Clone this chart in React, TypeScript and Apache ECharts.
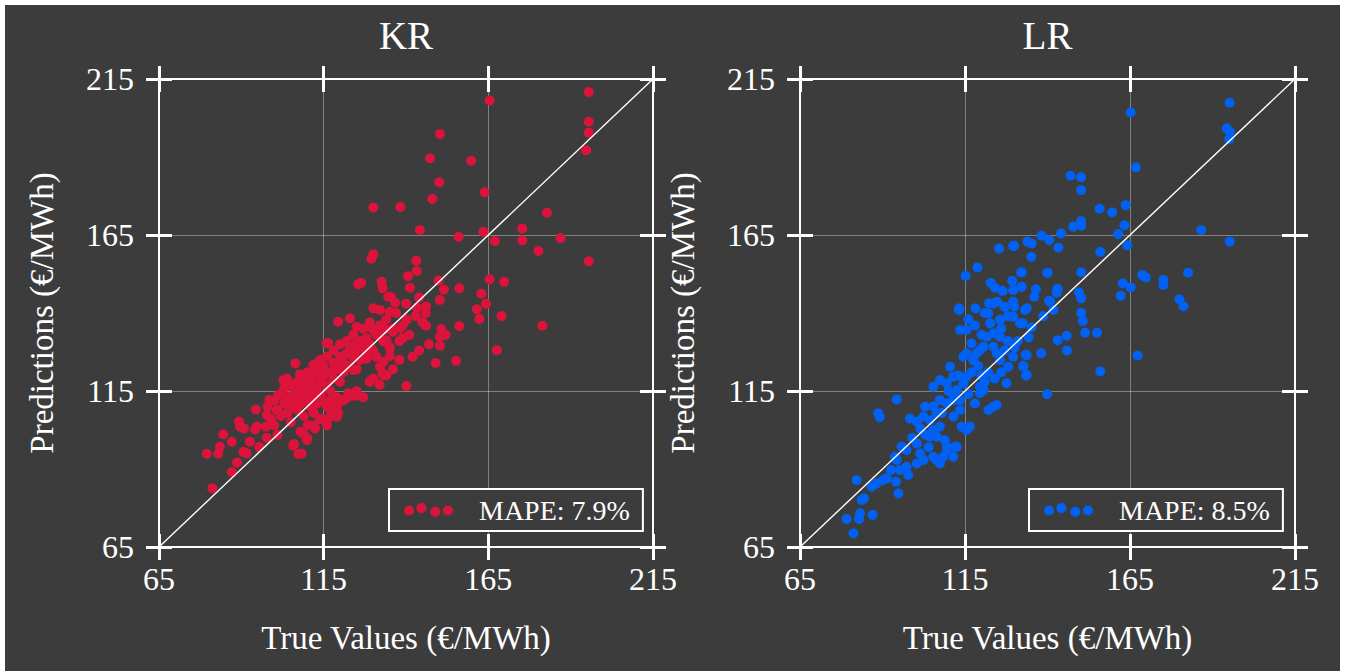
import React, { useEffect, useRef } from "react";
import * as echarts from "echarts";

const AXIS_MIN = 65;
const AXIS_MAX = 215;
const AXIS_STEP = 50;
const titles = ["KR", "LR"];
const xName = "True Values (€/MWh)";
const yName = "Predictions (€/MWh)";
const legendLabels = ["MAPE: 7.9%", "MAPE: 8.5%"];
const colors = ["#DC143C", "#0061F3"];
const diagonal: [number, number][] = [[65, 65], [215, 215]];

const krPoints: [number, number][] = [
  [195.5, 210.8], [165.4, 208.1], [195.5, 201.3], [195.5, 197.8], [194.7, 192.2], [150.3, 197.4], [147.3, 189.6],
  [159.8, 188.8], [150.1, 181.9], [163.9, 178.7], [148, 176.6], [138.3, 174], [182.8, 172.1], [144.2, 166.6],
  [175.3, 167.1], [156, 164.4], [163.5, 166], [167, 163.1], [175.3, 163.3], [186.9, 164], [180.2, 159.9],
  [195.5, 156.6], [143.1, 156.8], [143.3, 153.5], [140.6, 151.8], [141.2, 148.1], [132.6, 150], [132.9, 147.9],
  [149.9, 150.4], [151.5, 147.5], [156.2, 147.9], [165.4, 150.8], [169.8, 150], [162.9, 146.2], [164.3, 143],
  [150.3, 144.2], [135.4, 145.2], [136.7, 143.3], [161.5, 141.2], [162.3, 138.1], [169, 139], [181.4, 135.9],
  [167.6, 128.1], [155.2, 124.7], [156.2, 135.8], [150.7, 134.9], [150.3, 132.4], [150.3, 129.5], [146.1, 135.9],
  [143.3, 141.7], [146.1, 142.1], [140.2, 137.9], [139.1, 132.1], [140.1, 116.6], [138.2, 135.2], [136.2, 135.2],
  [133.6, 134.9], [134.1, 131.3], [135.1, 128.7], [135.1, 126.2], [133.1, 124.4], [132.9, 120.7], [135.1, 140.4],
  [130.1, 173.8], [130.1, 158.8], [129.5, 157.4], [125.5, 149.2], [126.4, 149.7], [134.6, 145.2], [130.1, 141.5],
  [81.2, 83.8], [87.1, 89], [88.7, 92.1], [79.5, 94.9], [83, 94.9], [83.5, 97.1], [84.5, 101.1], [87.1, 98.7],
  [89.3, 105.2], [89.6, 103.6], [90.8, 103], [92.6, 98.7], [90.6, 95.5], [91.6, 95], [94.7, 103.6], [94.2, 102.7],
  [97.5, 103.6], [95.4, 97.1], [97.7, 100], [94.4, 109.1], [98.5, 112.1], [97.7, 107.3], [100.7, 108.9],
  [101.2, 113.7], [102.8, 118.5], [103.8, 119], [101, 100.9], [106.4, 123.8], [107.8, 120.4], [105.8, 97.5],
  [107.3, 94.8], [108.3, 95], [108.8, 101.4], [109.9, 99.3], [110.2, 104.1], [112.4, 103], [113.9, 106.2],
  [111.9, 123.3], [112.9, 123.9], [116.4, 106.2], [119, 106.8], [117, 108.9], [119.4, 107.9], [120, 112.1],
  [122, 112.7], [122.5, 114.3], [124.5, 113.4], [115.9, 130.3], [116.4, 130.3], [119.4, 137.2], [123, 138.3],
  [125, 135.6], [132.1, 141], [129.1, 135.6], [130.1, 134.6], [133.1, 134.6], [128.1, 125.4], [130.1, 119],
  [132.1, 122.8], [133.1, 120.1], [125, 130.3], [124, 121.7],
  [98, 110], [99, 106], [100, 112], [100, 104], [101, 109], [102, 114], [102, 107], [103, 111], [103, 116],
  [104, 108], [104, 113], [105, 110], [105, 117], [105, 105], [106, 112], [106, 115], [107, 109], [107, 118],
  [108, 113], [108, 111], [108, 116], [109, 114], [109, 119], [109, 107], [110, 112], [110, 117], [110, 121],
  [111, 110], [111, 115], [111, 118], [112, 113], [112, 120], [112, 108], [113, 116], [113, 122], [113, 111],
  [114, 118], [114, 114], [114, 125], [115, 120], [115, 112], [115, 123], [116, 117], [116, 126], [116, 110],
  [117, 121], [117, 115], [118, 124], [118, 119], [118, 128], [119, 122], [119, 113], [120, 126], [120, 118],
  [120, 130], [121, 124], [121, 121], [122, 127], [122, 131], [123, 123], [123, 129], [124, 126], [124, 133],
  [125, 128], [125, 122], [126, 131], [126, 125], [127, 129], [127, 135], [128, 127], [128, 132], [129, 130],
  [129, 137], [130, 128], [131, 133], [131, 126], [132, 136], [133, 131], [134, 138], [135, 129], [136, 134],
  [137, 140], [138, 131], [139, 136], [140, 143], [141, 133], [143, 139], [144, 145], [145, 137], [146, 140],
  [106, 98], [108, 102], [110, 100], [112, 104], [114, 106], [116, 104], [118, 108], [117, 112], [119, 110],
  [121, 112], [123, 114], [125, 115], [127, 113], [129, 118], [132, 117], [134, 120], [136, 122], [138, 125],
  [142, 126], [144, 128], [147, 130], [149, 124], [152, 133]
];

const lrPoints: [number, number][] = [
  [195.2, 207.4], [194.3, 199.2], [195.3, 198.1], [195.1, 195.7], [165.2, 204.3], [166.8, 186.7], [147, 184],
  [150.2, 183.5], [150.2, 179.4], [155.8, 173.4], [159.6, 172.3], [163.7, 174.6], [147.8, 167.7], [150.2, 169.5],
  [150.2, 168], [163.3, 168.1], [161.4, 165.3], [164.2, 161.7], [186.6, 166.6], [195.2, 162.9], [138.2, 164.8],
  [140.5, 163.4], [144.1, 165.5], [133.9, 162.9], [135.2, 162.3], [143.3, 161], [135.1, 158], [156, 159.6],
  [132.2, 153.1], [139.9, 152.9], [150.2, 153.1], [168.7, 152.2], [169.8, 151.4], [175.1, 150.6], [175.1, 149],
  [182.6, 152.9], [162.8, 149.5], [165.2, 148.2], [132.2, 148.4], [136.5, 147.6], [136, 145.2], [143.1, 147.7],
  [149.5, 146.6], [150.2, 144.7], [162.2, 145.5], [140.7, 143.8], [180, 144.4], [181.2, 142.2], [167.3, 126.4],
  [156, 121.3], [139.9, 114], [155, 133.7], [151.4, 133.7], [150.2, 140.1], [150.7, 137.4], [145.8, 132.7],
  [143.1, 131.3], [145.9, 128], [138.1, 127.1], [133.4, 126.6], [132.7, 123.1], [133.5, 119.9], [134.3, 132.2],
  [135.2, 135.4], [132.5, 136.7], [133.2, 141], [138.7, 139], [140.8, 143.6], [141.8, 141],
  [125.3, 160.7], [129.6, 161.5], [129.9, 161.6], [118.8, 154.6], [115.2, 151.9], [122.8, 149.7], [124.1, 148.1],
  [126.4, 147.1], [129.3, 150.3], [129.6, 147.4], [132, 153], [132, 148.4], [140.1, 152.9], [143, 147.8],
  [140.5, 143.9], [122.3, 143.1], [124.8, 143.6], [129.6, 143.6], [129.9, 142], [133.7, 141.5], [142.8, 146.5],
  [113.2, 141.5], [118.2, 141.5],
  [81.2, 69.4], [79.1, 74], [82.9, 74], [83.2, 75.8], [87, 75.3], [83.7, 80.1], [84.4, 80.6], [82.2, 86.5],
  [86.7, 84.3], [88.2, 85.4], [90.2, 86.5], [91.3, 87], [92.6, 89.7], [94.1, 85.9], [94.8, 82.2], [94.3, 92.9],
  [93.8, 93.9], [95.3, 89.7], [97.3, 90.7], [97.8, 88.1], [88.7, 107.9], [89.2, 106.6], [94.3, 112.3],
  [95.8, 97.1], [97.3, 96.1], [100.4, 98.2], [101.4, 95], [100.4, 91.8], [102.4, 92.9], [98.3, 106.2],
  [100.4, 105.2], [101.4, 103], [102.9, 110], [102.4, 106.8], [104.4, 100.4], [105.4, 93.9], [106.4, 92.9],
  [108.4, 93.9], [109.5, 96.1], [107.4, 91.8], [105.4, 102.5], [106.4, 100.4], [107.4, 103.6], [108.9, 99.3],
  [109.5, 97.1], [112, 97.1], [111.5, 93.9], [104.4, 105.7], [106.4, 107.9], [107.4, 112.1], [105.4, 110],
  [109.5, 111.1], [111.5, 113.2], [111.5, 106.8], [113.5, 108.9], [114, 103.6], [115.5, 102.5], [116.5, 103.6],
  [112.5, 97.1], [105.4, 116.4], [107.4, 118.5], [109.5, 117.5], [111.5, 119.6], [110.5, 122.8], [111.5, 112.1],
  [113.5, 112.1], [112.5, 115.3], [114.5, 117.5], [115.5, 119.6], [119.5, 116.4], [120.6, 115.3], [119.5, 114.3],
  [123.6, 110], [122.1, 108.9], [124.6, 110.5], [113.5, 134.6], [115.5, 134.6], [117, 130.3], [113.2, 141],
  [114.5, 126], [115.5, 127.1], [117.5, 124.9], [118.5, 127.1], [119.5, 128.1], [120.6, 129.2], [121.6, 132.4],
  [123.6, 133.5], [125.6, 132.4], [123.6, 129.2], [124.6, 127.1], [125.6, 124.9], [127.6, 117.5], [128.1, 122.8],
  [129.6, 126], [132.7, 122.8], [133.7, 120.1], [133.7, 126.5], [129.6, 138.8], [131.7, 136.7], [122.6, 136.7],
  [122.1, 139.9], [123.6, 143.1], [125.6, 137.8],
  [117, 121], [119, 123], [121, 118], [122, 121], [124, 119], [126, 121], [127, 128], [128, 131], [130, 129],
  [131, 131], [126, 135], [120, 133], [118, 136], [116, 138], [121, 140], [127, 142], [128, 139], [110, 115],
  [108, 108], [103, 101], [99, 100], [104, 97], [113, 120], [116, 114], [118, 111], [120, 120]
];

const seriesPoints = [krPoints, lrPoints];

const FONT = "'Liberation Serif', 'Times New Roman', 'DejaVu Serif', serif";
const BG = "#3c3c3c";

const grids = [
  { left: 154, top: 74, width: 494, height: 468 },
  { left: 795, top: 74, width: 495, height: 468 },
];
const legendPos = [
  { left: 384, top: 484 },
  { left: 1024, top: 484 },
];

const legendIcon =
  "path://M0,7.4a5,5 0 1,0 10,0a5,5 0 1,0 -10,0z" +
  "M12.3,5a5,5 0 1,0 10,0a5,5 0 1,0 -10,0z" +
  "M26,8.7a5,5 0 1,0 10,0a5,5 0 1,0 -10,0z" +
  "M38.6,7.4a5,5 0 1,0 10,0a5,5 0 1,0 -10,0z";

function makeAxes(dim: "x" | "y", gi: number) {
  const positions = dim === "x" ? ["bottom", "top"] : ["left", "right"];
  const res: any[] = [];
  positions.forEach((pos, pi) => {
    [false, true].forEach((inside) => {
      const main = pi === 0 && !inside;
      res.push({
        type: "value",
        gridIndex: gi,
        position: pos,
        min: AXIS_MIN,
        max: AXIS_MAX,
        interval: AXIS_STEP,
        axisLine: { show: true, onZero: false, lineStyle: { color: "#ffffff", width: 2 } },
        axisTick: { show: true, inside, length: 13, lineStyle: { color: "#ffffff", width: 3 } },
        axisLabel: main
          ? {
              show: true,
              color: "#ffffff",
              fontSize: 32,
              fontFamily: FONT,
              margin: dim === "x" ? 16 : 25,
            }
          : { show: false },
        splitLine: main
          ? { show: true, lineStyle: { color: "rgba(255,255,255,0.35)", width: 1 } }
          : { show: false },
        name: main ? (dim === "x" ? xName : yName) : "",
        nameLocation: "middle",
        nameGap: dim === "x" ? 74 : 101,
        nameTextStyle: { color: "#ffffff", fontSize: 33, fontFamily: FONT },
      });
    });
  });
  return res;
}

export default function App() {
  const ref = useRef<HTMLDivElement>(null);
  useEffect(() => {
    document.body.style.margin = "0";
    document.body.style.background = "#ffffff";
    if (!ref.current) return;
    const chart = echarts.init(ref.current, undefined, { renderer: "svg" });
    const xAxes: any[] = [];
    const yAxes: any[] = [];
    [0, 1].forEach((gi) => {
      xAxes.push(...makeAxes("x", gi));
      yAxes.push(...makeAxes("y", gi));
    });
    const series: any[] = [];
    [0, 1].forEach((gi) => {
      series.push({
        type: "scatter",
        name: legendLabels[gi],
        xAxisIndex: gi * 4,
        yAxisIndex: gi * 4,
        data: seriesPoints[gi],
        symbol: "circle",
        symbolSize: 10,
        itemStyle: { color: colors[gi], opacity: 1 },
        z: 2,
      });
      series.push({
        type: "line",
        name: "diag" + gi,
        xAxisIndex: gi * 4,
        yAxisIndex: gi * 4,
        data: diagonal,
        symbol: "none",
        lineStyle: { color: "#ffffff", width: 1.4 },
        z: 3,
        silent: true,
      });
    });
    chart.setOption({
      animation: false,
      backgroundColor: BG,
      title: titles.map((t, gi) => ({
        text: t,
        left: grids[gi].left + grids[gi].width / 2,
        top: 11,
        textAlign: "center",
        padding: 0,
        textStyle: { color: "#ffffff", fontSize: 39, fontWeight: "normal", fontFamily: FONT },
      })),
      grid: grids,
      xAxis: xAxes,
      yAxis: yAxes,
      legend: legendLabels.map((l, gi) => ({
        data: [l],
        left: legendPos[gi].left,
        top: legendPos[gi].top,
        selectedMode: false,
        icon: legendIcon,
        itemWidth: 49,
        itemHeight: 14,
        borderColor: "#ffffff",
        borderWidth: 2,
        borderRadius: 0,
        backgroundColor: BG,
        padding: [7, 13, 7, 15],
        textStyle: { color: "#ffffff", fontSize: 28, fontFamily: FONT, padding: [0, 0, 0, 21] },
        z: 10,
      })),
      series,
    });
    return () => chart.dispose();
  }, []);
  return (
    <div
      ref={ref}
      style={{ position: "absolute", left: 5, top: 5, width: 1335, height: 666 }}
    />
  );
}
